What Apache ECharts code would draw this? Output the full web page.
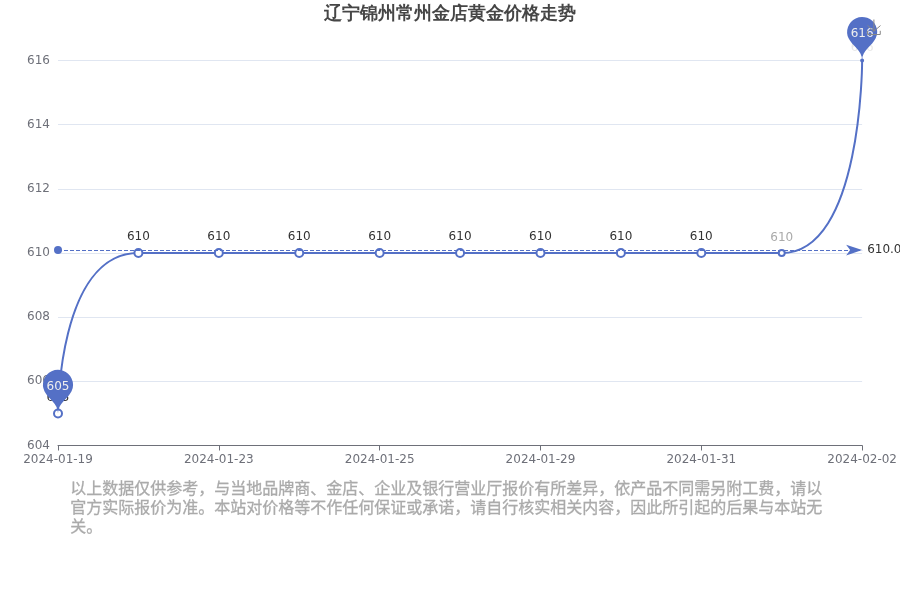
<!DOCTYPE html>
<html>
<head>
<meta charset="utf-8">
<style>
  html, body { margin: 0; padding: 0; background: #fff; }
  #main { width: 900px; height: 600px; }
</style>
<script src="https://cdn.jsdelivr.net/npm/echarts@6/dist/echarts.min.js"></script>
</head>
<body>
<div id="main"></div>
<script>
var dates = ['2024-01-19', '2024-01-21', '2024-01-23', '2024-01-24', '2024-01-25', '2024-01-27',
  '2024-01-29', '2024-01-30', '2024-01-31', '2024-02-01', '2024-02-02'];
var prices = [605, 610, 610, 610, 610, 610, 610, 610, 610, 610, 616];
var titleText = '辽宁锦州常州金店黄金价格走势';
var noteText = '以上数据仅供参考，与当地品牌商、金店、企业及银行营业厅报价有所差异，依产品不同需另附工费，请以官方实际报价为准。本站对价格等不作任何保证或承诺，请自行核实相关内容，因此所引起的后果与本站无关。';

var chartDom = document.getElementById('main');
var myChart = echarts.init(chartDom);

// the last two points are drawn lighter and smaller, as in the reference
var seriesData = prices.map(function (v, i) {
  var item = { value: v };
  if (i === 9) item.label = { color: '#aaa' };
  if (i === 10) item.label = { color: '#e8e8e8' };
  return item;
});

var option = {
  animation: false,
  color: ['#5470c6'],
  textStyle: { fontFamily: 'DejaVu Sans' },
  title: {
    text: titleText,
    left: 'center',
    top: 0,
    textStyle: { fontFamily: 'DejaVu Sans', fontSize: 18, fontWeight: 'bold', color: '#464646' }
  },
  toolbox: {
    right: 2,
    top: 2,
    iconStyle: { color: 'none', borderColor: '#888' },
    feature: { saveAsImage: {} }
  },
  grid: { left: 58, right: 36, top: 60.5, bottom: 154.5 },
  xAxis: {
    type: 'category',
    boundaryGap: false,
    data: dates,
    axisLine: { lineStyle: { color: '#6e7079' } },
    axisTick: { lineStyle: { color: '#6e7079' } },
    axisLabel: { interval: 1, hideOverlap: false, color: '#6e7079', margin: 8 }
  },
  yAxis: {
    type: 'value',
    min: 604,
    max: 616,
    interval: 2,
    axisLine: { show: false },
    axisLabel: { color: '#6e7079' },
    splitLine: { lineStyle: { color: '#e0e6f1' } }
  },
  series: [{
    type: 'line',
    name: '价格',
    data: seriesData,
    smooth: 1,
    symbol: 'emptyCircle',
    symbolSize: function (v, params) {
      if (params.dataIndex === 10) return 2;
      if (params.dataIndex === 9) return 6;
      return 8;
    },
    label: { show: true, position: 'top', color: '#333' },
    markPoint: {
      data: [{ type: 'max', name: '最高' }, { type: 'min', name: '最低' }]
    },
    markLine: {
      lineStyle: { color: '#5470c6' },
      label: { color: '#333' },
      data: [{ type: 'average', name: '平均' }]
    }
  }],
  graphic: [{
    type: 'text',
    left: 70,
    top: 478,
    style: {
      text: noteText,
      width: 760,
      overflow: 'break',
      font: '16px "Noto Sans CJK SC", sans-serif',
      lineHeight: 19,
      fill: '#aaa',
      stroke: '#aaa',
      lineWidth: 0.3
    }
  }]
};

option && myChart.setOption(option);
</script>
</body>
</html>
